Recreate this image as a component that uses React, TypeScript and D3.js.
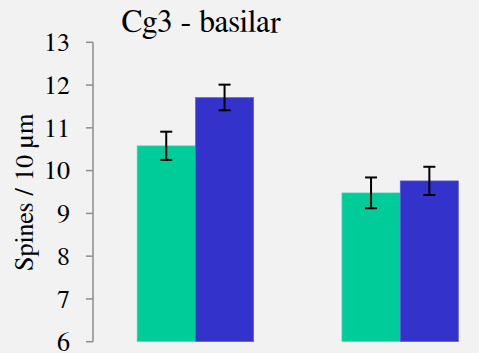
import React from "react";
import * as d3 from "d3";

const groups = ["Group 1", "Group 2"];
const seriesNames = ["Series A", "Series B"];
const seriesA = [10.58, 9.48];
const seriesB = [11.71, 9.76];
const errA = [0.33, 0.36];
const errB = [0.30, 0.33];
const yTicks = [6, 7, 8, 9, 10, 11, 12, 13];
const colors = ["#00cc99", "#3333cc"];

const W = 479;
const H = 353;
const FONT = '"FreeSerif", "Liberation Serif", serif';

export default function App() {
  const y = d3.scaleLinear().domain([6, 13]).range([341.7, 42.3]);
  const x0 = d3.scaleBand<string>().domain(groups).range([93, 502.6]).paddingInner(0).paddingOuter(0);
  const x1 = d3
    .scaleBand<string>()
    .domain(seriesNames)
    .range([0, x0.bandwidth()])
    .paddingInner(0)
    .paddingOuter(0.756);
  const values = [seriesA, seriesB];
  const errs = [errA, errB];
  const axisX = 93;
  const ts: React.CSSProperties = { fontFamily: FONT };

  return (
    <svg
      width={W}
      height={H}
      style={{ position: "absolute", left: 0, top: 0, background: "#f2f2f2", fontFamily: FONT }}
    >
      <rect x={0} y={0} width={W} height={H} fill="#f2f2f2" />
      {groups.map((g, gi) =>
        seriesNames.map((s, si) => {
          const v = values[si][gi];
          const bx = (x0(g) as number) + (x1(s) as number);
          return (
            <rect
              key={g + s}
              x={bx}
              y={y(v)}
              width={x1.bandwidth()}
              height={y(6) - y(v)}
              fill={colors[si]}
              stroke={si === 0 ? "#66ddbb" : "#6666dd"}
              strokeWidth={0.6}
            />
          );
        })
      )}
      {groups.map((g, gi) =>
        seriesNames.map((s, si) => {
          const v = values[si][gi];
          const e = errs[si][gi];
          const cx = (x0(g) as number) + (x1(s) as number) + x1.bandwidth() / 2;
          return (
            <g key={"e" + g + s} stroke="#000" strokeWidth={2}>
              <line x1={cx} x2={cx} y1={y(v + e)} y2={y(v - e)} />
              <line x1={cx - 6} x2={cx + 6} y1={y(v + e)} y2={y(v + e)} />
              <line x1={cx - 6} x2={cx + 6} y1={y(v - e)} y2={y(v - e)} />
            </g>
          );
        })
      )}
      <line x1={axisX} x2={axisX} y1={y(13)} y2={y(6)} stroke="#8c8c8c" strokeWidth={1.5} />
      {yTicks.map((t) => (
        <g key={t}>
          <line x1={axisX - 7} x2={axisX} y1={y(t)} y2={y(t)} stroke="#8c8c8c" strokeWidth={1.5} />
          <text x={70} y={y(t)} dy="0.34em" textAnchor="end" fontSize={26} fill="#000" style={ts}>
            {t}
          </text>
        </g>
      ))}
      <text
        transform={`translate(33, 192) rotate(-90)`}
        textAnchor="middle"
        fontSize={26.5}
        fill="#000"
        style={ts}
      >
        Spines / 10 µm
      </text>
      <text x={201} y={32} textAnchor="middle" fontSize={31.5} fill="#000" style={ts}>
        Cg3 - basilar
      </text>
    </svg>
  );
}
